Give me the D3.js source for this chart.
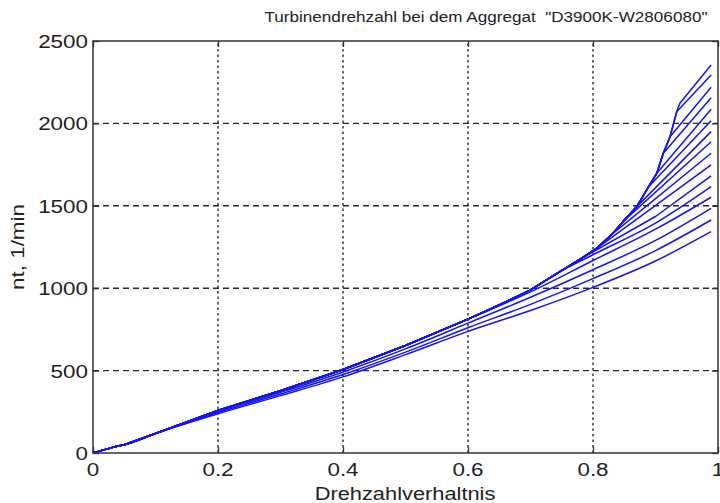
<!DOCTYPE html>
<html>
<head>
<meta charset="utf-8">
<script src="https://cdn.jsdelivr.net/npm/d3@7"></script>
<style>
  body { margin: 0; background: #fff; }
  text { font-family: "Liberation Sans", Arial, sans-serif; fill: #222; }
</style>
</head>
<body>
<script>
"use strict";
(function(){
  // tick values
  const xTicks = [0, 0.2, 0.4, 0.6, 0.8, 1]
  const yTicks = [0, 500, 1000, 1500, 2000, 2500]

  // upper envelope [ratio, nt]; the top curve follows it all the way
  const envelope = [
    [0, 0], [0.02, 22], [0.04, 42], [0.05, 50], [0.1, 118], [0.2, 258],
    [0.3, 378], [0.4, 507], [0.5, 652], [0.6, 812], [0.65, 898], [0.7, 990],
    [0.747, 1100], [0.779, 1175], [0.806, 1242], [0.832, 1333],
    [0.848, 1404], [0.870, 1495], [0.889, 1616], [0.902, 1697],
    [0.9125, 1819], [0.9232, 1919], [0.9339, 2071], [0.939, 2122], [0.989, 2354]
  ]

  // short hatch curves: follow the envelope, then leave it at their first point
  const hatches = [
    [[0.9339, 2071], [0.989, 2294]],
    [[0.9232, 1919], [0.989, 2219]],
    [[0.9125, 1819], [0.989, 2156]],
    [[0.902, 1697], [0.989, 2086]],
    [[0.889, 1616], [0.989, 2016]],
    [[0.870, 1495], [0.989, 1950]],
    [[0.848, 1404], [0.989, 1889]],
    [[0.832, 1333], [0.989, 1819]],
    [[0.806, 1242], [0.989, 1748]],
    [[0.779, 1175], [0.9, 1435], [0.989, 1681]]
  ]

  // long curves leaving the envelope early
  const longCurves = [
    [[0.747, 1100], [0.8, 1203], [0.9, 1395], [0.989, 1616]],
    [[0.65, 893], [0.7, 978], [0.8, 1168], [0.9, 1358], [0.989, 1552]],
    [[0.2, 252], [0.3, 368], [0.4, 492], [0.5, 632], [0.6, 788], [0.7, 945], [0.8, 1112], [0.9, 1290], [0.989, 1485]],
    [[0.2, 245], [0.3, 358], [0.4, 476], [0.5, 612], [0.6, 760], [0.7, 902], [0.8, 1058], [0.9, 1228], [0.989, 1414]],
    [[0.2, 238], [0.3, 348], [0.4, 462], [0.5, 597], [0.6, 738], [0.7, 865], [0.8, 1005], [0.9, 1165], [0.989, 1343]]
  ]

  const W = 720, H = 503
  const m = {left: 93, top: 41, right: 2, bottom: 50}
  const stretch = 1.18

  const svg = d3.select("body").append("svg")
      .attr("width", W)
      .attr("height", H)

  const x = d3.scaleLinear().domain([0, 1]).range([m.left, W - m.right])
  const y = d3.scaleLinear().domain([0, 2500]).range([H - m.bottom, m.top])

  // grid
  svg.append("g").selectAll("line")
    .data(xTicks.slice(1, -1))
    .enter().append("line")
      .attr("x1", d => x(d)).attr("x2", d => x(d))
      .attr("y1", y(0)).attr("y2", y(2500))
      .attr("stroke", "#2a2a2a").attr("stroke-width", 1.4)
      .attr("stroke-dasharray", "2.5,3")
  svg.append("g").selectAll("line")
    .data(yTicks.slice(1, -1))
    .enter().append("line")
      .attr("x1", x(0)).attr("x2", x(1))
      .attr("y1", d => y(d)).attr("y2", d => y(d))
      .attr("stroke", "#2a2a2a").attr("stroke-width", 1.4)
      .attr("stroke-dasharray", "6,4")

  // curves
  const straight = d3.line()
      .x(d => x(d[0]))
      .y(d => y(d[1]))
  const smooth = d3.line()
      .x(d => x(d[0]))
      .y(d => y(d[1]))
      .curve(d3.curveMonotoneX)

  function withEnvelope(b) {
    return envelope.filter(p => p[0] < b[0][0]).concat(b)
  }

  const g = svg.append("g")
      .attr("fill", "none")
      .attr("stroke", "#1414f5")
      .attr("stroke-width", 1.5)
      .attr("stroke-linejoin", "round")

  g.selectAll(".hatch")
    .data([envelope].concat(hatches.map(withEnvelope)))
    .enter().append("path")
      .attr("class", "hatch")
      .attr("d", straight)
  g.selectAll(".long")
    .data(longCurves.map(withEnvelope))
    .enter().append("path")
      .attr("class", "long")
      .attr("d", smooth)

  // box and inner ticks (MATLAB style)
  svg.append("rect")
      .attr("x", x(0)).attr("y", y(2500))
      .attr("width", x(1) - x(0)).attr("height", y(0) - y(2500))
      .attr("fill", "none").attr("stroke", "#333").attr("stroke-width", 1.5)

  const axB = svg.append("g").attr("transform", "translate(0," + y(0) + ")")
      .call(d3.axisTop(x).tickValues(xTicks).tickSize(6).tickFormat(""))
  const axT = svg.append("g").attr("transform", "translate(0," + y(2500) + ")")
      .call(d3.axisBottom(x).tickValues(xTicks).tickSize(6).tickFormat(""))
  const axL = svg.append("g").attr("transform", "translate(" + x(0) + ",0)")
      .call(d3.axisRight(y).tickValues(yTicks).tickSize(6).tickFormat(""))
  const axR = svg.append("g").attr("transform", "translate(" + x(1) + ",0)")
      .call(d3.axisLeft(y).tickValues(yTicks).tickSize(6).tickFormat(""))
  ;[axB, axT, axL, axR].forEach(function(a){
    a.select(".domain").remove()
    a.selectAll("line").attr("stroke", "#333").attr("stroke-width", 1.3)
  })

  // text, stretched a bit sideways like the source image
  function label(px, py, txt, size, anchor, rot) {
    svg.append("text")
      .attr("transform", "translate(" + px + "," + py + ")" + (rot ? " rotate(" + rot + ")" : "") + " scale(" + stretch + ",1)")
      .attr("text-anchor", anchor)
      .attr("font-size", size)
      .text(txt)
  }

  xTicks.forEach(d => label(x(d), y(0) + 23, d3.format("~g")(d), 19, "middle"))
  yTicks.forEach(d => label(x(0) - 5, y(d) + 7, d, 19, "end"))

  label(486, 22, "Turbinendrehzahl bei dem Aggregat \u00a0\"D3900K-W2806080\"", 14.5, "middle")
  label(405, 500, "Drehzahlverhaltnis", 18.5, "middle")
  label(24, 247, "nt, 1/min", 19, "middle", -90)
})();
</script>
</body>
</html>
